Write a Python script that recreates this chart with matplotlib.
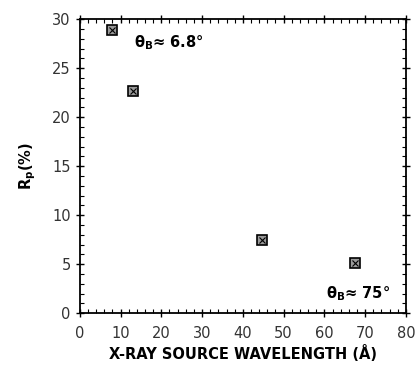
import matplotlib
matplotlib.use("Agg")
import matplotlib.pyplot as plt
from matplotlib.ticker import MultipleLocator

# X-ray source wavelength (Å) vs R_p (%)
wavelength = [8.0, 13.0, 44.6, 67.4]
rp = [28.9, 22.7, 7.5, 5.1]

fig = plt.figure(figsize=(4.18, 3.68), dpi=100)
ax = fig.add_axes([0.191, 0.149, 0.780, 0.799])

ax.plot(wavelength, rp, ls="none", marker="s", ms=7, mfc="#9a9a9a", mec="black", mew=1.2)
ax.plot(wavelength, rp, ls="none", marker="x", ms=4, mec="black", mew=0.8)

ax.text(13.3, 27.6, r"θ$_\mathbf{B}$≈ 6.8°", fontsize=10.5, fontweight="bold", va="center")
ax.text(60.4, 2.0, r"θ$_\mathbf{B}$≈ 75°", fontsize=10.5, fontweight="bold", va="center")

ax.set_xlim(0, 80)
ax.set_ylim(0, 30)
ax.xaxis.set_major_locator(MultipleLocator(10))
ax.xaxis.set_minor_locator(MultipleLocator(2))
ax.yaxis.set_major_locator(MultipleLocator(5))
ax.yaxis.set_minor_locator(MultipleLocator(1))
ax.tick_params(which="major", direction="inout", length=6, width=1,
               top=True, right=True, labelsize=10.5, labelcolor="#333333")
ax.tick_params(axis="x", which="major", pad=6)
ax.tick_params(which="minor", direction="in", length=3, width=0.8, top=True, right=True)
for s in ax.spines.values():
    s.set_linewidth(1.3)

ax.set_xlabel("X-RAY SOURCE WAVELENGTH (Å)", fontsize=10.5, fontweight="bold", labelpad=3)
ax.set_ylabel(r"$\mathbf{R_p}$(%)", fontsize=10.5, fontweight="bold", labelpad=10)

fig.savefig("out.png", dpi=100)
